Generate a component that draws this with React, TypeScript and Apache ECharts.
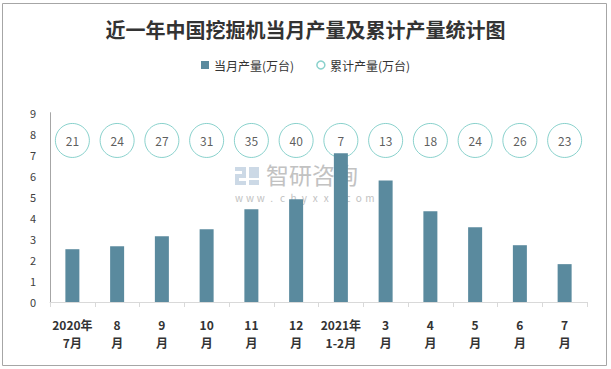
import React, { useEffect, useRef } from "react";
import * as echarts from "echarts";

const categories = ["2020年\n7月", "8\n月", "9\n月", "10\n月", "11\n月", "12\n月", "2021年\n1-2月", "3\n月", "4\n月", "5\n月", "6\n月", "7\n月"];
const monthly = [2.51, 2.65, 3.13, 3.46, 4.41, 4.88, 7.07, 5.78, 4.31, 3.55, 2.7, 1.8];
const cumulative = [21, 24, 27, 31, 35, 40, 7, 13, 18, 24, 26, 23];
const circleLevel = 7.68;
const yTicks = { min: 0, max: 9, interval: 1 };
const watermarkUrl = "www.chyxx.com";

export default function App() {
  const ref = useRef<HTMLDivElement>(null);
  useEffect(() => {
    if (!ref.current) return;
    const chart = echarts.init(ref.current, undefined, { renderer: "svg" });
    const font = "'Noto Sans CJK SC', 'Noto Sans', sans-serif";
    const logoColor = "#ccd9e6";
    const wmColor = "#c2c2c2";
    const urlChars = watermarkUrl.split("").map((ch, i) => ({
      type: "text",
      x: 239 + i * 10.9,
      y: 192,
      style: { text: ch, fontSize: 10, lineHeight: 10, fill: wmColor, fontFamily: font, align: "center" },
      z: -5,
    }));
    chart.setOption({
      animation: false,
      backgroundColor: "#ffffff",
      textStyle: { fontFamily: font },
      title: {
        text: "近一年中国挖掘机当月产量及累计产量统计图",
        left: "center",
        top: 14,
        textStyle: { fontSize: 20, fontWeight: "bold", color: "#333333", fontFamily: font },
      },
      legend: {
        top: 54,
        left: "center",
        itemWidth: 8,
        itemHeight: 8,
        itemGap: 22,
        textStyle: { fontSize: 12, color: "#333333", fontFamily: font },
        data: [
          { name: "当月产量(万台)", icon: "rect" },
          { name: "累计产量(万台)", icon: "circle", itemStyle: { color: "#ffffff", borderColor: "#6cc5bf", borderWidth: 1.5 } },
        ],
      },
      graphic: [
        { type: "rect", shape: { x: 2.5, y: 3.5, width: 604, height: 362 }, style: { fill: "none", stroke: "#a6a6a6", lineWidth: 1 }, z: -10 },
        { type: "rect", shape: { x: 235, y: 167, width: 11, height: 4 }, style: { fill: logoColor }, z: -5 },
        { type: "rect", shape: { x: 242, y: 167, width: 4, height: 11 }, style: { fill: logoColor }, z: -5 },
        { type: "rect", shape: { x: 235, y: 174, width: 11, height: 4 }, style: { fill: logoColor }, z: -5 },
        { type: "rect", shape: { x: 235, y: 174, width: 4, height: 11 }, style: { fill: logoColor }, z: -5 },
        { type: "rect", shape: { x: 235, y: 181, width: 11, height: 4 }, style: { fill: logoColor }, z: -5 },
        { type: "rect", shape: { x: 249, y: 167, width: 10, height: 11 }, style: { fill: logoColor }, z: -5 },
        { type: "rect", shape: { x: 249, y: 180, width: 10, height: 5 }, style: { fill: logoColor }, z: -5 },
        { type: "text", x: 266, y: 162, style: { text: "智研咨询", fontSize: 23, lineHeight: 23, fill: wmColor, fontFamily: font }, z: -5 },
        ...urlChars,
      ],
      grid: { left: 50, right: 24, top: 112.7, bottom: 67, containLabel: false },
      xAxis: {
        type: "category",
        data: categories,
        boundaryGap: true,
        axisLine: { lineStyle: { color: "#d9d9d9" } },
        axisTick: { show: true, alignWithLabel: false, length: 5, lineStyle: { color: "#d9d9d9" } },
        axisLabel: { interval: 0, fontSize: 12, fontWeight: "bold", color: "#333333", lineHeight: 18, margin: 13, fontFamily: font },
      },
      yAxis: {
        type: "value",
        min: yTicks.min,
        max: yTicks.max,
        interval: yTicks.interval,
        axisLine: { show: true, lineStyle: { color: "#a6a6a6" } },
        axisTick: { show: false },
        splitLine: { show: false },
        axisLabel: { fontSize: 11, color: "#404040", margin: 14, fontFamily: font },
      },
      series: [
        {
          name: "当月产量(万台)",
          type: "bar",
          data: monthly,
          barWidth: 14,
          itemStyle: { color: "#5a8a9e" },
          z: 3,
        },
        {
          name: "累计产量(万台)",
          type: "scatter",
          data: cumulative.map(() => circleLevel),
          symbol: "circle",
          symbolSize: 34,
          itemStyle: { color: "rgba(255,255,255,0)", borderColor: "#6cc5bf", borderWidth: 1 },
          label: {
            show: true,
            position: "inside",
            fontSize: 12,
            color: "#333333",
            formatter: (p: any) => String(cumulative[p.dataIndex]),
          },
          z: 2,
        },
      ],
    });
    return () => chart.dispose();
  }, []);
  return <div ref={ref} style={{ width: 611, height: 369, position: "absolute", left: 0, top: 0 }} />;
}
